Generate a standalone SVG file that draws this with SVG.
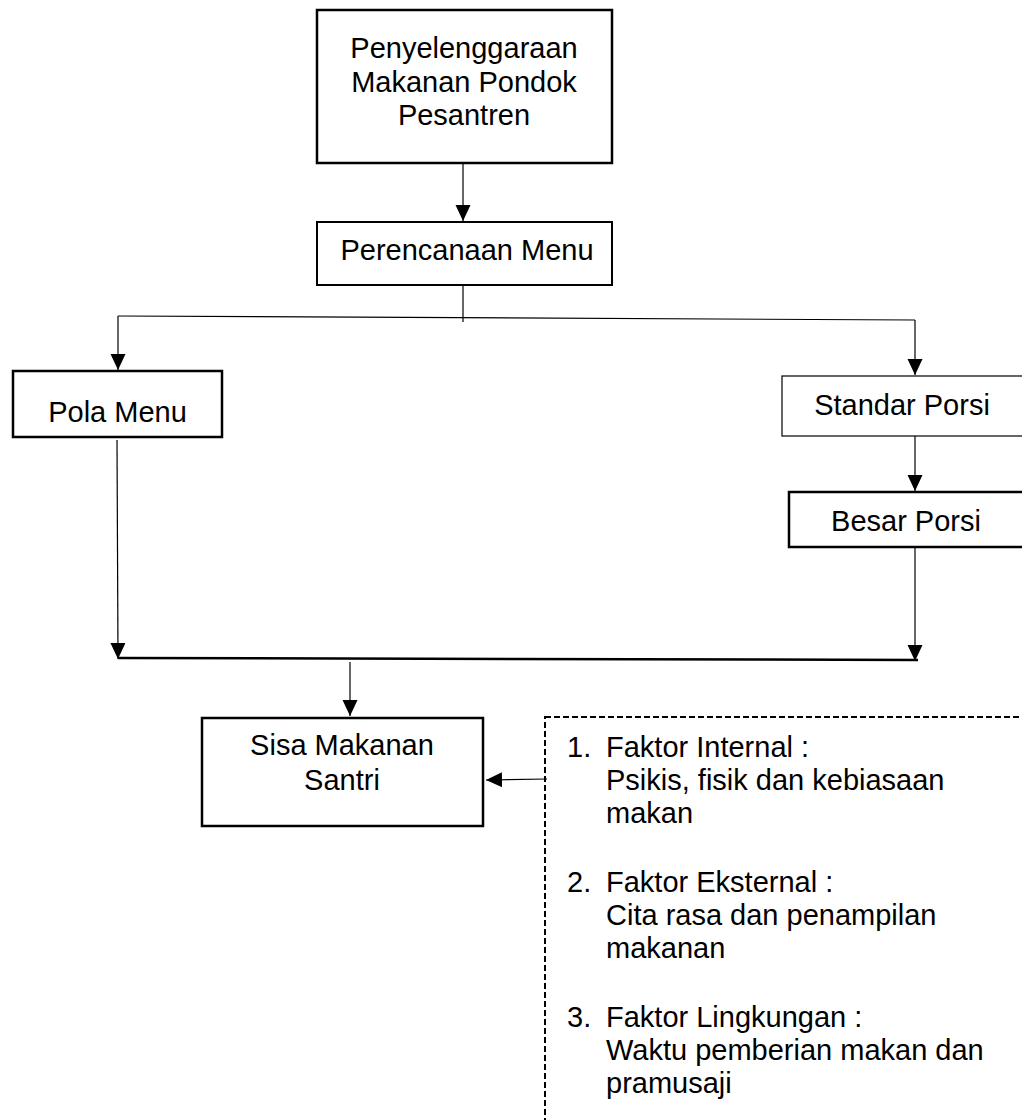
<svg xmlns="http://www.w3.org/2000/svg" width="1022" height="1120" viewBox="0 0 1022 1120">
<style>
  text { font-family: "Liberation Sans", Arial, sans-serif; font-size: 29px; fill: #000; }
  .c { text-anchor: middle; }
  .box { fill: #fff; stroke: #000; }
  .conn { stroke: #000; stroke-width: 1.2; fill: none; }
  .dash { fill: none; stroke: #000; stroke-width: 2; stroke-dasharray: 6 3; }
</style>
<defs>
  <marker id="arr" markerUnits="userSpaceOnUse" markerWidth="17" markerHeight="16" refX="16" refY="7.5" orient="auto">
    <path d="M0,0 L16,7.5 L0,15 z" fill="#000"/>
  </marker>
</defs>
<rect width="1022" height="1120" fill="#fff"/>

<g id="connectors">
  <line class="conn" x1="463" y1="163" x2="463" y2="221" marker-end="url(#arr)"/>
  <line class="conn" x1="463" y1="285" x2="463" y2="322"/>
  <line class="conn" x1="118" y1="316" x2="915" y2="320"/>
  <line class="conn" x1="118" y1="316" x2="118" y2="370" marker-end="url(#arr)"/>
  <line class="conn" x1="915" y1="320" x2="915" y2="375" marker-end="url(#arr)"/>
  <line class="conn" x1="915" y1="436" x2="915" y2="491" marker-end="url(#arr)"/>
  <line class="conn" x1="117" y1="440" x2="118" y2="659" marker-end="url(#arr)"/>
  <line class="conn" x1="915" y1="547" x2="915" y2="661" marker-end="url(#arr)"/>
  <line x1="118" y1="658" x2="918" y2="660" stroke="#000" stroke-width="2.5"/>
  <line class="conn" x1="350" y1="662" x2="350" y2="716" marker-end="url(#arr)"/>
  <line class="conn" x1="547" y1="779" x2="486" y2="780" marker-end="url(#arr)"/>
</g>

<g id="node-penyelenggaraan">
  <rect class="box" x="317" y="10" width="295" height="153" stroke-width="2.5"/>
  <text class="c" x="464" y="58">Penyelenggaraan</text>
  <text class="c" x="464" y="92">Makanan Pondok</text>
  <text class="c" x="464" y="125">Pesantren</text>
</g>

<g id="node-perencanaan">
  <rect class="box" x="317" y="222" width="295" height="63" stroke-width="2"/>
  <text class="c" x="467" y="260">Perencanaan Menu</text>
</g>

<g id="node-pola">
  <rect class="box" x="13" y="371" width="209" height="66" stroke-width="2.5"/>
  <text class="c" x="117.5" y="422">Pola Menu</text>
</g>

<g id="node-standar">
  <rect class="box" x="782" y="376" width="250" height="60" stroke-width="1.2"/>
  <text class="c" x="902" y="415">Standar Porsi</text>
</g>

<g id="node-besar">
  <rect class="box" x="789" y="492" width="250" height="55" stroke-width="2.5"/>
  <text class="c" x="906" y="531">Besar Porsi</text>
</g>

<g id="node-sisa">
  <rect class="box" x="202" y="718" width="281" height="108" stroke-width="2.5"/>
  <text class="c" x="342" y="755">Sisa Makanan</text>
  <text class="c" x="342" y="790">Santri</text>
</g>

<g id="node-faktor">
  <rect class="dash" x="545" y="717" width="490" height="420"/>
  <text x="567" y="757">1.</text>
  <text x="606" y="757">Faktor Internal :</text>
  <text x="606" y="790">Psikis, fisik dan kebiasaan</text>
  <text x="606" y="823">makan</text>
  <text x="567" y="892">2.</text>
  <text x="606" y="892">Faktor Eksternal :</text>
  <text x="606" y="925">Cita rasa dan penampilan</text>
  <text x="606" y="958">makanan</text>
  <text x="567" y="1027">3.</text>
  <text x="606" y="1027">Faktor Lingkungan :</text>
  <text x="606" y="1060">Waktu pemberian makan dan</text>
  <text x="606" y="1093">pramusaji</text>
</g>
</svg>
